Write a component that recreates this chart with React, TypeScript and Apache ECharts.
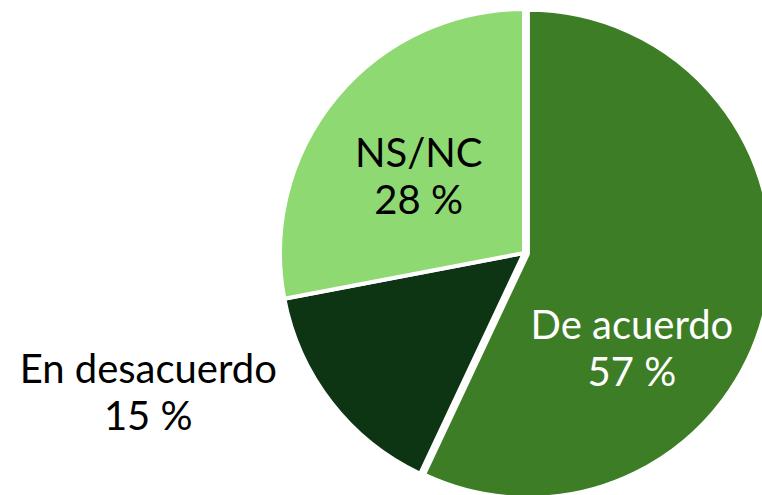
import React, { useEffect, useRef } from "react";
import * as echarts from "echarts";

const categories = ["De acuerdo", "En desacuerdo", "NS/NC"];
const values = [57, 15, 28];
const colors = ["#3d7d26", "#0d3513", "#8fd973"];
const labelColors = ["#ffffff", "#000000", "#000000"];
const exploded = [true, false, false];
// label shifts relative to the default inside position (px)
const labelShifts = [
  [-18, 66],
  [-277, 62],
  [-9, 2],
];

export default function App() {
  const ref = useRef<HTMLDivElement>(null);
  useEffect(() => {
    if (!ref.current) return;
    const chart = echarts.init(ref.current, undefined, { renderer: "svg" });
    chart.setOption({
      animation: false,
      series: [
        {
          type: "pie",
          center: [524, 253],
          radius: 244,
          startAngle: 90,
          clockwise: true,
          selectedMode: "multiple",
          selectedOffset: 4,
          avoidLabelOverlap: false,
          itemStyle: { borderColor: "#ffffff", borderWidth: 4 },
          label: {
            show: true,
            position: "inside",
            fontFamily: "Lato",
            fontSize: 40,
            lineHeight: 47,
            formatter: (p: any) => `${p.name}\n${p.value} %`,
          },
          labelLine: { show: false },
          emphasis: { disabled: true },
          select: { itemStyle: { borderColor: "#ffffff", borderWidth: 4 } },
          labelLayout: (p: any) => ({
            dx: labelShifts[p.dataIndex][0],
            dy: labelShifts[p.dataIndex][1],
          }),
          data: categories.map((c, i) => ({
            name: c,
            value: values[i],
            selected: exploded[i],
            itemStyle: { color: colors[i] },
            label: { color: labelColors[i] },
            select: { itemStyle: { color: colors[i] }, label: { color: labelColors[i] } },
          })),
        },
      ],
    });
    return () => chart.dispose();
  }, []);
  return (
    <div
      ref={ref}
      style={{ position: "fixed", left: 0, top: 0, width: 762, height: 495, background: "#fff" }}
    />
  );
}
